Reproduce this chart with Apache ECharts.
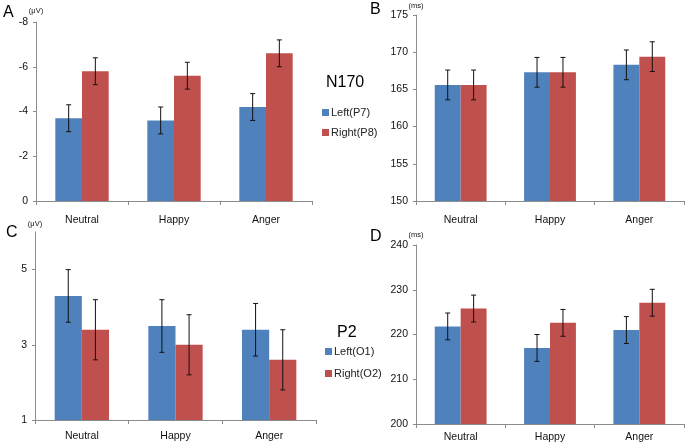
<!DOCTYPE html>
<html>
<head>
<meta charset="utf-8">
<script src="https://cdn.jsdelivr.net/npm/echarts@6/dist/echarts.min.js"></script>
<style>html,body{margin:0;padding:0;background:#fff;}#c{width:689px;height:447px;}</style>
</head>
<body>
<div id="c"></div>
<script>
// ---- data ----
const categories = ['Neutral', 'Happy', 'Anger'];
// Panel A: N170 amplitude (μV)
const aLeft = [-3.7, -3.6, -4.2];
const aLeftErr = [0.6, 0.6, 0.6];
const aRight = [-5.8, -5.6, -6.6];
const aRightErr = [0.6, 0.6, 0.6];
// Panel B: N170 latency (ms)
const bLeft = [165.6, 167.3, 168.3];
const bLeftErr = [2.0, 2.0, 2.0];
const bRight = [165.6, 167.3, 169.4];
const bRightErr = [2.0, 2.0, 2.0];
// Panel C: P2 amplitude (μV)
const cLeft = [4.3, 3.5, 3.4];
const cLeftErr = [0.7, 0.7, 0.7];
const cRight = [3.4, 3.0, 2.6];
const cRightErr = [0.8, 0.8, 0.8];
// Panel D: P2 latency (ms)
const dLeft = [221.8, 217.0, 221.0];
const dLeftErr = [3.0, 3.0, 3.0];
const dRight = [225.8, 222.6, 227.1];
const dRightErr = [3.0, 3.0, 3.0];
const cTicks = [1, 3, 5];

const BLUE = '#4F81BD', RED = '#C0504D';
const GAP = 0.42;
const AXIS = '#8c8c8c';
const FONT = '"Liberation Sans", Arial, sans-serif';

function errItem(sign) {
  return function (params, api) {
    const x = api.value(0), v = api.value(1), e = api.value(2);
    const band = api.size([1, 0])[0];
    const bw = band * (1 - GAP) / 2;
    const c = api.coord([x, v]);
    const cx = c[0] + sign * bw / 2;
    const hi = api.coord([x, v + e])[1];
    const lo = api.coord([x, v - e])[1];
    const cap = 2.5;
    const st = { stroke: '#111', lineWidth: 1 };
    return {
      type: 'group',
      children: [
        { type: 'line', shape: { x1: cx, y1: hi, x2: cx, y2: lo }, style: st },
        { type: 'line', shape: { x1: cx - cap, y1: hi, x2: cx + cap, y2: hi }, style: st },
        { type: 'line', shape: { x1: cx - cap, y1: lo, x2: cx + cap, y2: lo }, style: st }
      ]
    };
  };
}

function errData(vals, errs) {
  return vals.map((v, i) => [i, v, errs[i]]);
}

const grids = [
  { left: 36, top: 22, right: 377, bottom: 246 },
  { left: 416, top: 15, right: 5, bottom: 246 },
  { left: 35, top: 232, right: 373, bottom: 27 },
  { left: 416, top: 245, right: 5, bottom: 23 }
];

function xAx(gi, margin) {
  return {
    type: 'category', gridIndex: gi, data: categories,
    axisLine: { show: true, lineStyle: { color: AXIS } },
    axisTick: { show: true, length: 4, lineStyle: { color: AXIS } },
    axisLabel: { margin: margin, fontSize: 10.5, color: '#111', fontFamily: FONT }
  };
}

function yAx(gi, opts) {
  return Object.assign({
    type: 'value', gridIndex: gi,
    splitLine: { show: false },
    axisLine: { show: true, lineStyle: { color: AXIS } },
    axisTick: { show: true, length: 3, lineStyle: { color: AXIS } },
    axisLabel: { margin: 8, fontSize: 10.5, color: '#111', fontFamily: FONT },
    nameLocation: 'end',
    nameTextStyle: { fontSize: 7.5, color: '#111', fontFamily: FONT }
  }, opts);
}

function barS(name, gi, data, color) {
  return {
    name: name, type: 'bar', xAxisIndex: gi, yAxisIndex: gi, data: data,
    barGap: '0%', barCategoryGap: (GAP * 100) + '%',
    itemStyle: { color: color }
  };
}
function errS(name, gi, vals, errs, sign) {
  return {
    name: name, type: 'custom', xAxisIndex: gi, yAxisIndex: gi, z: 5,
    renderItem: errItem(sign), data: errData(vals, errs),
    encode: { x: 0, y: 1 }, silent: true
  };
}

const chart = echarts.init(document.getElementById('c'));
chart.setOption({
  animation: false,
  textStyle: { fontFamily: FONT },
  grid: grids,
  xAxis: [xAx(0, 14), xAx(1, 14), xAx(2, 11), xAx(3, 8)],
  yAxis: [
    yAx(0, { min: -8, max: 0, interval: 2, inverse: true, name: '(μV)', nameLocation: 'start', nameGap: 7 }),
    yAx(1, { min: 150, max: 175, interval: 5, name: '(ms)', nameGap: 5 }),
    yAx(2, { min: 1, max: 6, name: '(μV)', nameGap: 4,
      axisLabel: { margin: 8, fontSize: 10.5, color: '#111', fontFamily: FONT, customValues: cTicks },
      axisTick: { show: true, length: 3, lineStyle: { color: AXIS }, customValues: cTicks } }),
    yAx(3, { min: 200, max: 240, interval: 10, name: '(ms)', nameGap: 6 })
  ],
  legend: [
    {
      data: ['Left(P7)', 'Right(P8)'], orient: 'vertical', left: 322, top: 106,
      padding: 0, itemWidth: 7, itemHeight: 7, itemGap: 7, icon: 'rect',
      textStyle: { fontSize: 11, color: '#222', lineHeight: 13, fontFamily: FONT, padding: [0, 0, 0, -3] }
    },
    {
      data: ['Left(O1)', 'Right(O2)'], orient: 'vertical', left: 325, top: 345,
      padding: 0, itemWidth: 7, itemHeight: 7, itemGap: 9, icon: 'rect',
      textStyle: { fontSize: 11, color: '#222', lineHeight: 13, fontFamily: FONT, padding: [0, 0, 0, -3] }
    }
  ],
  graphic: [
    { type: 'text', left: 3, top: 5, style: { text: 'A', fill: '#000', font: '16px ' + FONT } },
    { type: 'text', left: 370, top: 2, style: { text: 'B', fill: '#000', font: '16px ' + FONT } },
    { type: 'text', left: 6, top: 225, style: { text: 'C', fill: '#000', font: '16px ' + FONT } },
    { type: 'text', left: 370, top: 229, style: { text: 'D', fill: '#000', font: '16px ' + FONT } },
    { type: 'text', left: 326, top: 75, style: { text: 'N170', fill: '#000', font: '16px ' + FONT } },
    { type: 'text', left: 337, top: 325, style: { text: 'P2', fill: '#000', font: '16px ' + FONT } }
  ],
  series: [
    barS('Left(P7)', 0, aLeft, BLUE),
    barS('Right(P8)', 0, aRight, RED),
    errS('errA1', 0, aLeft, aLeftErr, -1),
    errS('errA2', 0, aRight, aRightErr, 1),
    barS('Left(P7)', 1, bLeft, BLUE),
    barS('Right(P8)', 1, bRight, RED),
    errS('errB1', 1, bLeft, bLeftErr, -1),
    errS('errB2', 1, bRight, bRightErr, 1),
    barS('Left(O1)', 2, cLeft, BLUE),
    barS('Right(O2)', 2, cRight, RED),
    errS('errC1', 2, cLeft, cLeftErr, -1),
    errS('errC2', 2, cRight, cRightErr, 1),
    barS('Left(O1)', 3, dLeft, BLUE),
    barS('Right(O2)', 3, dRight, RED),
    errS('errD1', 3, dLeft, dLeftErr, -1),
    errS('errD2', 3, dRight, dRightErr, 1)
  ]
});
</script>
</body>
</html>
